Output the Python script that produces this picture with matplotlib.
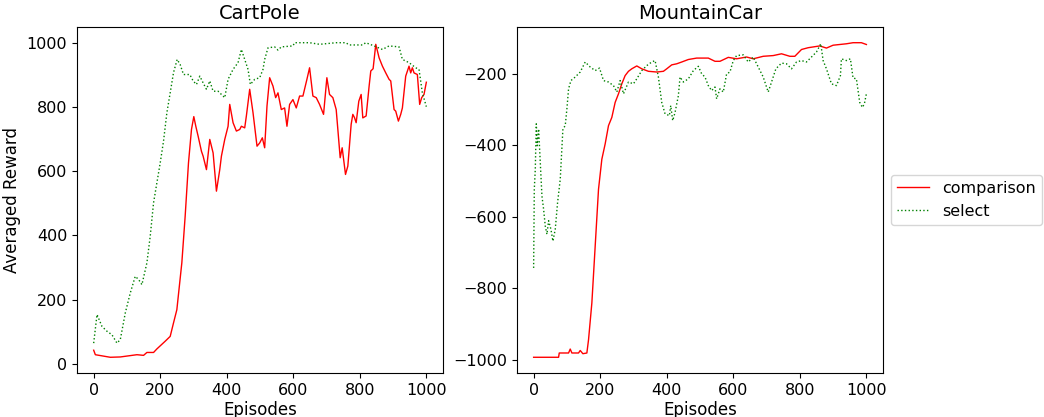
import matplotlib
matplotlib.use("Agg")
import matplotlib.pyplot as plt

# CartPole curves (episode, averaged reward)
cp_comp_ep = [0, 5, 50, 80, 130, 150, 160, 180, 190, 215, 230, 240, 250, 265, 275, 285, 294, 301, 307, 314,
              324, 329, 334, 339, 349, 359, 369, 379, 384, 394, 404, 409, 419, 429, 439, 444, 454, 459, 469, 479,
              491, 499, 507, 514, 521, 529, 539, 547, 554, 564, 574, 581, 589, 599, 609, 619, 629, 641, 649, 659,
              669, 679, 691, 701, 709, 719, 729, 734, 741, 747, 757, 764, 774, 779, 784, 789, 797, 804, 809, 819,
              824, 828, 833, 840, 848, 858, 868, 878, 888, 893, 903, 908, 916, 923, 928, 938, 948, 953, 958, 963,
              973, 980, 986, 993, 1000]
cp_comp = [43, 29, 21, 22, 29, 27, 36, 36, 47, 71, 86, 128, 169, 315, 460, 626, 730, 770, 740, 709,
           662, 647, 626, 605, 699, 657, 538, 605, 647, 699, 740, 808, 751, 725, 730, 740, 735, 772, 855, 782,
           678, 688, 704, 673, 803, 891, 865, 829, 844, 792, 797, 740, 808, 823, 797, 834, 834, 886, 922, 834,
           829, 808, 777, 891, 839, 829, 792, 730, 642, 673, 590, 616, 746, 777, 767, 751, 818, 839, 766, 772,
           823, 865, 912, 919, 995, 953, 927, 906, 886, 881, 792, 787, 756, 777, 797, 896, 927, 906, 922, 906,
           901, 808, 829, 839, 877]

cp_sel_ep = [0, 10, 25, 40, 55, 70, 80, 95, 110, 125, 135, 145, 160, 170, 180, 190, 200, 210, 220, 230,
             240, 251, 260, 270, 289, 299, 309, 319, 329, 339, 349, 359, 374, 384, 394, 404, 419, 434, 444, 454,
             464, 471, 484, 499, 509, 514, 524, 544, 554, 564, 599, 604, 649, 679, 729, 758, 768, 808, 818, 843,
             868, 888, 918, 928, 948, 968, 978, 988, 1000]
cp_sel = [65, 154, 117, 102, 91, 65, 76, 159, 221, 273, 263, 247, 315, 398, 502, 564, 626, 694, 782, 844,
          907, 948, 932, 901, 901, 881, 870, 896, 875, 855, 881, 849, 849, 839, 829, 886, 917, 938, 979, 948,
          917, 870, 886, 891, 917, 948, 984, 987, 977, 987, 990, 1000, 1000, 995, 1000, 1000, 993, 993, 1000, 990,
          979, 990, 987, 948, 938, 922, 917, 844, 801]

# MountainCar curves
mc_comp_ep = [0, 75, 77, 105, 110, 115, 135, 140, 148, 160, 165, 175, 185, 195, 205, 215, 225, 235, 245, 255,
              265, 275, 285, 295, 310, 325, 345, 370, 390, 400, 415, 430, 445, 465, 490, 525, 545, 560, 585, 610,
              640, 660, 690, 720, 745, 770, 785, 805, 825, 860, 880, 900, 940, 960, 985, 1000]
mc_comp = [-993, -993, -981, -981, -970, -981, -981, -974, -983, -981, -944, -841, -682, -523, -439, -396, -345, -322, -280, -256,
           -228, -205, -193, -186, -178, -186, -193, -195, -193, -186, -175, -172, -167, -160, -156, -156, -165, -165, -154, -158,
           -153, -158, -151, -149, -144, -151, -151, -132, -127, -122, -128, -120, -116, -113, -113, -118]

mc_sel_ep = [0, 2, 5, 8, 11, 15, 20, 25, 30, 35, 40, 45, 52, 58, 65, 72, 80, 88, 95, 100,
             105, 112, 125, 140, 155, 170, 185, 198, 210, 225, 240, 250, 260, 270, 285, 300, 310, 325, 340, 355,
             365, 375, 385, 395, 408, 412, 418, 425, 435, 440, 450, 465, 480, 495, 505, 515, 525, 535, 545, 550,
             560, 570, 580, 590, 600, 610, 630, 645, 660, 675, 690, 705, 715, 728, 745, 760, 775, 790, 805, 820,
             835, 850, 863, 870, 880, 895, 910, 922, 925, 940, 952, 960, 970, 980, 988, 994, 1000]
mc_sel = [-743, -523, -467, -340, -401, -354, -448, -542, -579, -626, -649, -611, -635, -668, -635, -560, -495, -354, -345, -298,
          -242, -219, -209, -195, -167, -181, -191, -184, -219, -223, -233, -251, -219, -256, -223, -228, -214, -191, -177, -167,
          -163, -209, -280, -312, -317, -289, -331, -308, -261, -209, -223, -214, -191, -179, -200, -209, -233, -247, -237, -270,
          -242, -251, -200, -195, -163, -149, -147, -167, -153, -181, -209, -251, -223, -186, -170, -172, -186, -167, -163, -167,
          -153, -139, -116, -163, -186, -228, -233, -205, -158, -163, -158, -212, -214, -280, -294, -284, -256]

fig = plt.figure(figsize=(10.44, 4.17), dpi=100)
ax1 = fig.add_axes([0.0738, 0.1055, 0.3505, 0.8298])
ax2 = fig.add_axes([0.4952, 0.1055, 0.3506, 0.8298])

ax1.plot(cp_comp_ep, cp_comp, 'r-', linewidth=1, label='comparison')
ax1.plot(cp_sel_ep, cp_sel, 'g:', linewidth=1, label='select')
ax1.set_title('CartPole', fontsize=14)
ax1.set_xlabel('Episodes', fontsize=12, labelpad=2)
ax1.set_ylabel('Averaged Reward', fontsize=12)
ax1.set_xticks([0, 200, 400, 600, 800, 1000])
ax1.set_yticks([0, 200, 400, 600, 800, 1000])

ax2.plot(mc_comp_ep, mc_comp, 'r-', linewidth=1, label='comparison')
ax2.plot(mc_sel_ep, mc_sel, 'g:', linewidth=1, label='select')
ax2.set_title('MountainCar', fontsize=14)
ax2.set_xlabel('Episodes', fontsize=12, labelpad=2)
ax2.set_xticks([0, 200, 400, 600, 800, 1000])
ax2.set_yticks([-1000, -800, -600, -400, -200])

for ax in (ax1, ax2):
    ax.tick_params(labelsize=11.5)

ax2.legend(loc='center left', bbox_to_anchor=(1.0, 0.5), fontsize=11.5)

fig.savefig('out.png', dpi=100)
